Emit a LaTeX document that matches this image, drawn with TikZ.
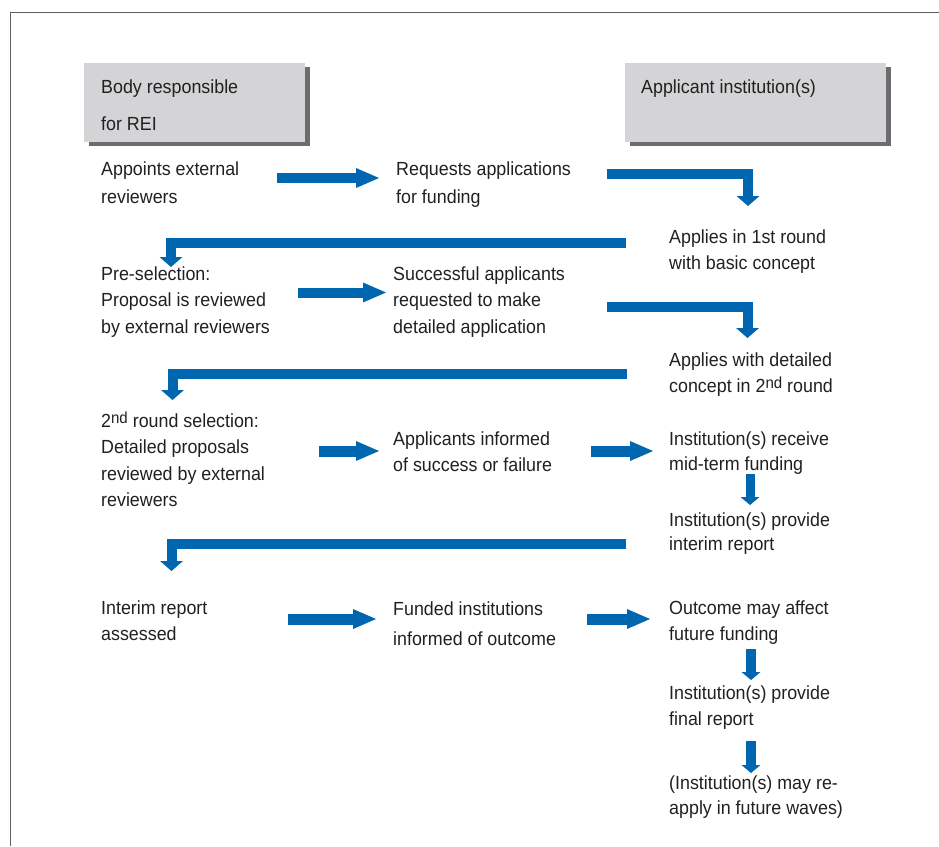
\documentclass[tikz,border=0pt]{standalone}
\usepackage{fontspec}
\setmainfont{Liberation Sans}[FakeStretch=0.94]
\usetikzlibrary{arrows.meta,shadows}
\definecolor{arrblue}{RGB}{0,102,176}
\definecolor{txtgray}{RGB}{32,32,32}
\definecolor{boxfill}{RGB}{212,212,214}
\definecolor{boxshadow}{RGB}{108,108,110}
\definecolor{framegray}{RGB}{95,95,95}
\newcommand{\ordsup}[1]{\raisebox{4pt}{\fontsize{16}{16}\selectfont #1}}
\begin{document}
\begin{tikzpicture}[x=1pt,y=-1pt,
  txt/.style={anchor=north west, inner sep=0pt, align=left, text=txtgray,
    font=\fontsize{19}{26.5}\selectfont},
  hdrbox/.style={anchor=north west, inner sep=0pt, fill=boxfill,
    minimum width=221pt, minimum height=79pt,
    drop shadow={shadow xshift=5pt, shadow yshift=-4pt, fill=boxshadow, opacity=1}},
  flow/.style={draw=arrblue, line width=10pt, line join=miter},
  headH/.style={-{Triangle[width=20pt,length=23pt,line width=0pt]}},
  headE/.style={-{Triangle[width=23pt,length=10pt,line width=0pt]}},
  headD/.style={-{Triangle[width=19pt,length=8pt,line width=0pt]}},
]
\useasboundingbox (0,0) rectangle (939,846);
% frame
\draw[framegray, line width=1pt] (10,846) -- (10,12) -- (939,12);

% header boxes
\node[hdrbox] (bodybox) at (84,63) {};
\node[hdrbox, minimum width=261pt] (appbox) at (625,63) {};
\node[txt] (bodytxt) at (101,{93-18.55}) {\strut Body responsible\\[10.5pt]for REI};
\node[txt] (apptxt) at (641,{93-18.55}) {\strut Applicant institution(s)};

% text blocks
\node[txt] (appoints) at (101,{175-18.55}) {\strut Appoints external\\[1.5pt]reviewers};
\node[txt] (requests) at (396,{175-18.55}) {\strut Requests applications\\[1.5pt]for funding};
\node[txt] (apply1) at (669,{243-18.55}) {\strut Applies in 1st round\\with basic concept};
\node[txt] (presel) at (101,{280-18.55}) {\strut Pre-selection:\\Proposal is reviewed\\by external reviewers};
\node[txt] (success) at (393,{280-18.55}) {\strut Successful applicants\\requested to make\\detailed application};
\node[txt] (apply2) at (669,{366-18.55}) {\strut Applies with detailed\\concept in 2\ordsup{nd} round};
\node[txt] (sel2) at (101,{427-18.55}) {\strut 2\ordsup{nd} round selection:\\Detailed proposals\\reviewed by external\\reviewers};
\node[txt] (informed) at (393,{445-18.55}) {\strut Applicants informed\\of success or failure};
\node[txt] (midterm) at (669,{445-18.55}) {\strut Institution(s) receive\\[-1pt]mid-term funding};
\node[txt] (interim) at (669,{526-18.55}) {\strut Institution(s) provide\\[-2pt]interim report};
\node[txt] (assessed) at (101,{614-18.55}) {\strut Interim report\\assessed};
\node[txt] (funded) at (393,{615-18.55}) {\strut Funded institutions\\[3.5pt]informed of outcome};
\node[txt] (outcome) at (669,{614-18.55}) {\strut Outcome may affect\\future funding};
\node[txt] (final) at (669,{699-18.55}) {\strut Institution(s) provide\\final report};
\node[txt] (reapply) at (669,{789-18.55}) {\strut (Institution(s) may re-\\[-1.5pt]apply in future waves)};

% arrow end points
\coordinate (a1s) at (277,178);   \coordinate (a1e) at (379,178);
\coordinate (e1s) at (607,173.5); \coordinate (e1e) at (748,206);
\coordinate (e2s) at (626,242.5); \coordinate (e2e) at (171,267);
\coordinate (a2s) at (298,292.5); \coordinate (a2e) at (386,292.5);
\coordinate (e3s) at (607,306.5); \coordinate (e3e) at (747.5,338);
\coordinate (e4s) at (627,374);   \coordinate (e4e) at (172.5,400);
\coordinate (a3s) at (319,451);   \coordinate (a3e) at (379,451);
\coordinate (a4s) at (591,451);   \coordinate (a4e) at (653,451);
\coordinate (d1s) at (750,474);   \coordinate (d1e) at (750,505);
\coordinate (e5s) at (626,544);   \coordinate (e5e) at (171.5,571);
\coordinate (a5s) at (288,619);   \coordinate (a5e) at (376,619);
\coordinate (a6s) at (587,619);   \coordinate (a6e) at (650,619);
\coordinate (d2s) at (751,649);   \coordinate (d2e) at (751,680);
\coordinate (d3s) at (751,741);   \coordinate (d3e) at (751,773);

% arrows
\draw[flow, headH] (a1s) -- (a1e);
\draw[flow, headE] (e1s) -| (e1e);
\draw[flow, headE] (e2s) -| (e2e);
\draw[flow, headH] (a2s) -- (a2e);
\draw[flow, headE] (e3s) -| (e3e);
\draw[flow, headE] (e4s) -| (e4e);
\draw[flow, line width=11pt, headH] (a3s) -- (a3e);
\draw[flow, line width=11pt, headH] (a4s) -- (a4e);
\draw[flow, line width=9pt, headD] (d1s) -- (d1e);
\draw[flow, headE] (e5s) -| (e5e);
\draw[flow, line width=11pt, headH] (a5s) -- (a5e);
\draw[flow, line width=11pt, headH] (a6s) -- (a6e);
\draw[flow, headD] (d2s) -- (d2e);
\draw[flow, headD] (d3s) -- (d3e);
\end{tikzpicture}
\end{document}
